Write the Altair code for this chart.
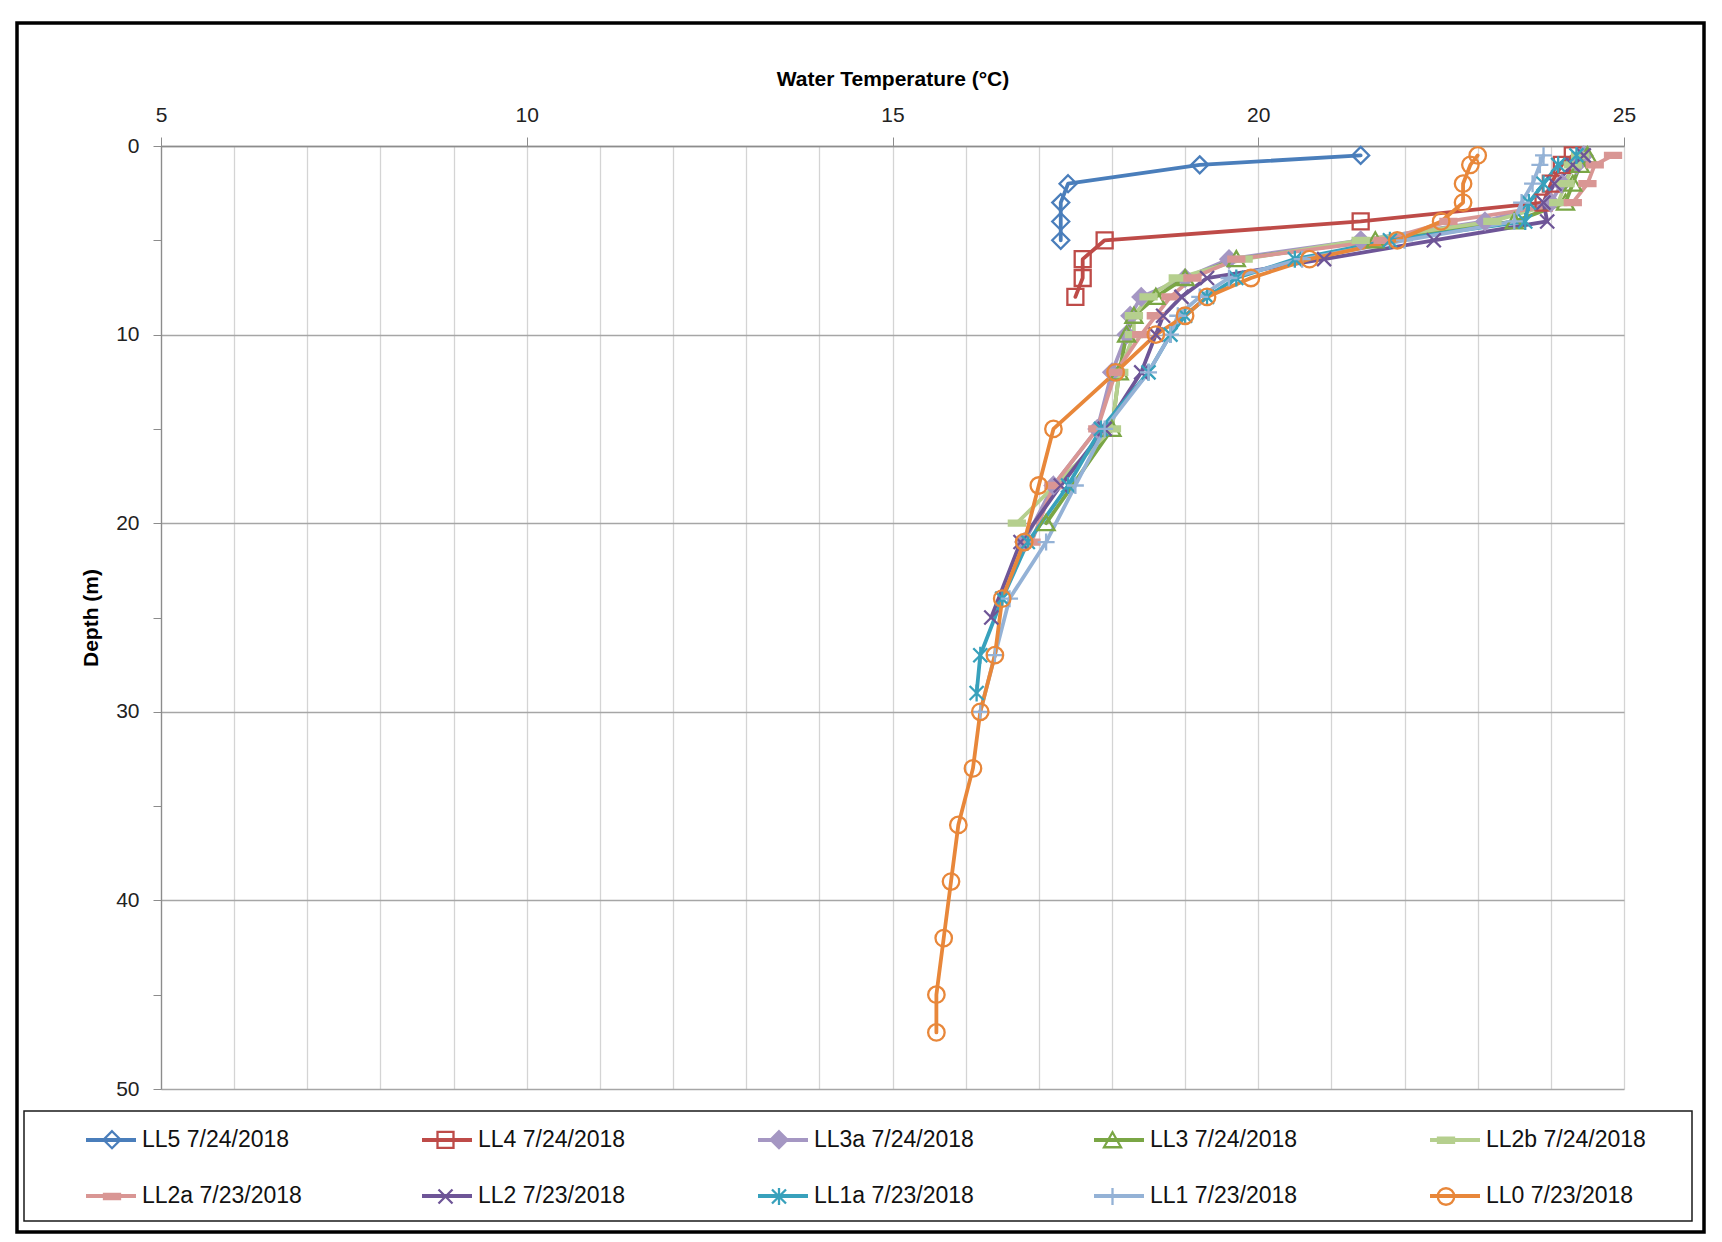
import altair as alt
import pandas as pd

SERIES = ["LL5 7/24/2018", "LL4 7/24/2018", "LL3a 7/24/2018", "LL3 7/24/2018", "LL2b 7/24/2018",
          "LL2a 7/23/2018", "LL2 7/23/2018", "LL1a 7/23/2018", "LL1 7/23/2018", "LL0 7/23/2018"]
COLORS = ["#4A7EBB", "#BE4B48", "#A597C3", "#7AA645", "#B5CF8E",
          "#D99694", "#6E5597", "#38A1BC", "#94B2D6", "#E8873A"]

# marker shapes (unit square -1..1, scaled by the point size)
DIAMOND = "M0,-0.34 L0.34,0 L0,0.34 L-0.34,0 Z"
SQUARE = "M-0.32,-0.32 L0.32,-0.32 L0.32,0.32 L-0.32,0.32 Z"
TRIANGLE = "M0,-0.32 L0.34,0.28 L-0.34,0.28 Z"
DASH = "M-0.32,-0.1 L0.32,-0.1 L0.32,0.1 L-0.32,0.1 Z"
XMARK = "M-0.28,-0.28 L0.28,0.28 M-0.28,0.28 L0.28,-0.28"
STAR = "M-0.28,-0.28 L0.28,0.28 M-0.28,0.28 L0.28,-0.28 M0,-0.34 L0,0.34"
PLUS = "M-0.34,0 L0.34,0 M0,-0.34 L0,0.34"
CIRCLE = "M0.33,0 A0.33,0.33 0 1,1 -0.33,0 A0.33,0.33 0 1,1 0.33,0 Z"
SHAPES = [DIAMOND, SQUARE, DIAMOND, TRIANGLE, DASH, DASH, XMARK, STAR, PLUS, CIRCLE]
FILLS = ["transparent", "transparent", "#A597C3", "transparent", "#B5CF8E",
         "#D99694", "transparent", "transparent", "transparent", "transparent"]

LL5_DEPTH = [0.5, 1, 2, 3, 4, 5]
LL5_TEMP = [21.4, 19.2, 17.4, 17.3, 17.3, 17.3]

LL4_DEPTH = [0.5, 1, 2, 3, 4, 5, 6, 7, 8]
LL4_TEMP = [24.3, 24.15, 24.0, 23.9, 21.4, 17.9, 17.6, 17.6, 17.5]

LL3A_DEPTH = [0.5, 1, 2, 3, 4, 5, 6, 7, 8, 9, 10, 12, 15, 18, 21]
LL3A_TEMP = [24.45, 24.35, 24.15, 24.0, 23.1, 21.4, 19.6, 19.0, 18.4, 18.25, 18.2, 18.0, 17.8, 17.2, 16.8]

LL3_DEPTH = [0.5, 1, 2, 3, 4, 5, 6, 7, 8, 9, 10, 12, 15, 20]
LL3_TEMP = [24.5, 24.4, 24.3, 24.2, 23.5, 21.6, 19.7, 19.0, 18.6, 18.3, 18.2, 18.1, 18.0, 17.1]

LL2B_DEPTH = [0.5, 1, 2, 3, 4, 5, 6, 7, 8, 9, 10, 12, 15, 20]
LL2B_TEMP = [24.4, 24.3, 24.2, 24.1, 23.2, 21.4, 19.8, 18.9, 18.5, 18.3, 18.3, 18.1, 18.0, 16.7]

LL2A_DEPTH = [0.5, 1, 2, 3, 4, 5, 6, 7, 8, 9, 10, 12, 15, 18, 21]
LL2A_TEMP = [24.85, 24.6, 24.5, 24.3, 22.6, 21.7, 19.7, 19.1, 18.8, 18.6, 18.4, 18.05, 17.8, 17.2, 16.9]

LL2_DEPTH = [0.5, 1, 2, 3, 4, 5, 6, 7, 8, 9, 10, 12, 15, 18, 21, 25]
LL2_TEMP = [24.45, 24.3, 24.05, 23.9, 23.95, 22.4, 20.9, 19.3, 18.95, 18.7, 18.6, 18.4, 17.9, 17.3, 16.75, 16.35]

LL1A_DEPTH = [0.5, 1, 2, 3, 4, 5, 6, 7, 8, 9, 10, 12, 15, 18, 21, 24, 27, 29]
LL1A_TEMP = [24.35, 24.1, 23.9, 23.7, 23.65, 21.8, 20.5, 19.7, 19.3, 19.0, 18.8, 18.5, 17.85, 17.4, 16.85, 16.5, 16.2, 16.15]

LL1_DEPTH = [0.5, 1, 2, 3, 4, 5, 6, 7, 8, 9, 10, 12, 15, 18, 21, 24, 27, 30]
LL1_TEMP = [23.9, 23.85, 23.75, 23.6, 23.5, 22.0, 20.6, 19.6, 19.2, 18.9, 18.8, 18.5, 17.9, 17.5, 17.1, 16.6, 16.4, 16.2]

LL0_DEPTH = [0.5, 1, 2, 3, 4, 5, 6, 7, 8, 9, 10, 12, 15, 18, 21, 24, 27, 30, 33, 36, 39, 42, 45, 47]
LL0_TEMP = [23.0, 22.9, 22.8, 22.8, 22.5, 21.9, 20.7, 19.9, 19.3, 19.0, 18.6, 18.05, 17.2, 17.0, 16.8,
            16.5, 16.4, 16.2, 16.1, 15.9, 15.8, 15.7, 15.6, 15.6]

PROFILES = [(LL5_DEPTH, LL5_TEMP), (LL4_DEPTH, LL4_TEMP), (LL3A_DEPTH, LL3A_TEMP), (LL3_DEPTH, LL3_TEMP),
            (LL2B_DEPTH, LL2B_TEMP), (LL2A_DEPTH, LL2A_TEMP), (LL2_DEPTH, LL2_TEMP), (LL1A_DEPTH, LL1A_TEMP),
            (LL1_DEPTH, LL1_TEMP), (LL0_DEPTH, LL0_TEMP)]

rows = []
for name, (depths, temps) in zip(SERIES, PROFILES):
    for d, t in zip(depths, temps):
        rows.append({"series": name, "depth": d, "temp": t})
df = pd.DataFrame(rows)

FONT = "Liberation Sans"

x_axis = alt.Axis(
    orient="top", values=list(range(5, 26)), title="Water Temperature (°C)",
    labelExpr="datum.value % 5 === 0 ? datum.label : ''", labelFlush=False,
    tickOpacity={"condition": {"test": "datum.value % 5 === 0", "value": 1}, "value": 0},
    tickSize=9, tickColor="#8C8C8C", domainColor="#8C8C8C", domainWidth=1.3,
    grid=True, gridColor="#D4D4D4", gridWidth=1.3,
    labelFont=FONT, labelFontSize=21, labelColor="#222222", labelPadding=12,
    titleFont=FONT, titleFontSize=21, titleFontWeight="bold", titleColor="#000000", titlePadding=15,
)
y_axis = alt.Axis(
    values=list(range(0, 51, 5)), title="Depth (m)",
    labelExpr="datum.value % 10 === 0 ? datum.label : ''", labelFlush=False,
    gridOpacity={"condition": {"test": "datum.value % 10 === 0", "value": 1}, "value": 0},
    tickSize=8, tickColor="#8C8C8C", domainColor="#8C8C8C", domainWidth=1.3,
    grid=True, gridColor="#A6A6A6", gridWidth=1.3,
    labelFont=FONT, labelFontSize=21, labelColor="#222222", labelPadding=14,
    titleFont=FONT, titleFontSize=21, titleFontWeight="bold", titleColor="#000000", titlePadding=14,
)

LEG_X = -77
LEG_Y = 967
common_leg = dict(title=None, orient="none", legendY=LEG_Y, columns=5, direction="horizontal",
                  gridAlign="all", rowPadding=17, labelFont=FONT, labelFontSize=23,
                  labelLimit=400, labelOffset=4, padding=0, symbolSize=2500)
# the line legend carries the labels; the marker legend sits exactly over it with no label text
line_legend = alt.Legend(symbolType="stroke", symbolStrokeWidth=3.8, labelColor="#111111",
                         legendX=LEG_X, columnPadding=112, **common_leg)
point_legend = alt.Legend(symbolStrokeWidth=2.3, labelExpr="''", legendX=LEG_X + 1.5,
                          columnPadding=276.5, **common_leg)

xenc = alt.X("temp:Q", scale=alt.Scale(domain=[5, 25], nice=False, zero=False), axis=x_axis)
yenc = alt.Y("depth:Q", scale=alt.Scale(domain=[0, 50], nice=False, reverse=True), axis=y_axis)

base = alt.Chart(df)

# line legend: data-driven domain (sorted); point legend: explicit domain -> two separate legends
lines = base.mark_line(strokeWidth=3.8, strokeJoin="round", strokeCap="round").encode(
    x=xenc, y=yenc, order="depth:Q",
    color=alt.Color("series:N", sort=SERIES, scale=alt.Scale(range=COLORS), legend=line_legend),
)

points = base.mark_point(size=2500, strokeWidth=2.3, opacity=1, filled=False).encode(
    x=xenc, y=yenc,
    stroke=alt.Stroke("series:N", scale=alt.Scale(domain=SERIES, range=COLORS), legend=point_legend),
    fill=alt.Fill("series:N", scale=alt.Scale(domain=SERIES, range=FILLS), legend=point_legend),
    shape=alt.Shape("series:N", scale=alt.Scale(domain=SERIES, range=SHAPES), legend=point_legend),
)

deco = pd.DataFrame({"k": [0]})
frame = alt.Chart(deco).mark_rect(fill="transparent", stroke="#000000", strokeWidth=3.5).encode(
    x=alt.value(-144), x2=alt.value(1543), y=alt.value(-123), y2=alt.value(1086)
)
legend_box = alt.Chart(deco).mark_rect(fill="transparent", stroke="#1A1A1A", strokeWidth=1.5).encode(
    x=alt.value(-137), x2=alt.value(1531), y=alt.value(965), y2=alt.value(1075)
)

chart = alt.layer(frame, legend_box, lines, points).properties(
    width=1463, height=943,
    autosize=alt.AutoSizeParams(type="none"),
    padding={"left": 153, "top": 138, "right": 86, "bottom": 145},
    background="white",
).configure_view(stroke=None)

chart.save("out.html", embed_options={"renderer": "svg", "actions": False})
